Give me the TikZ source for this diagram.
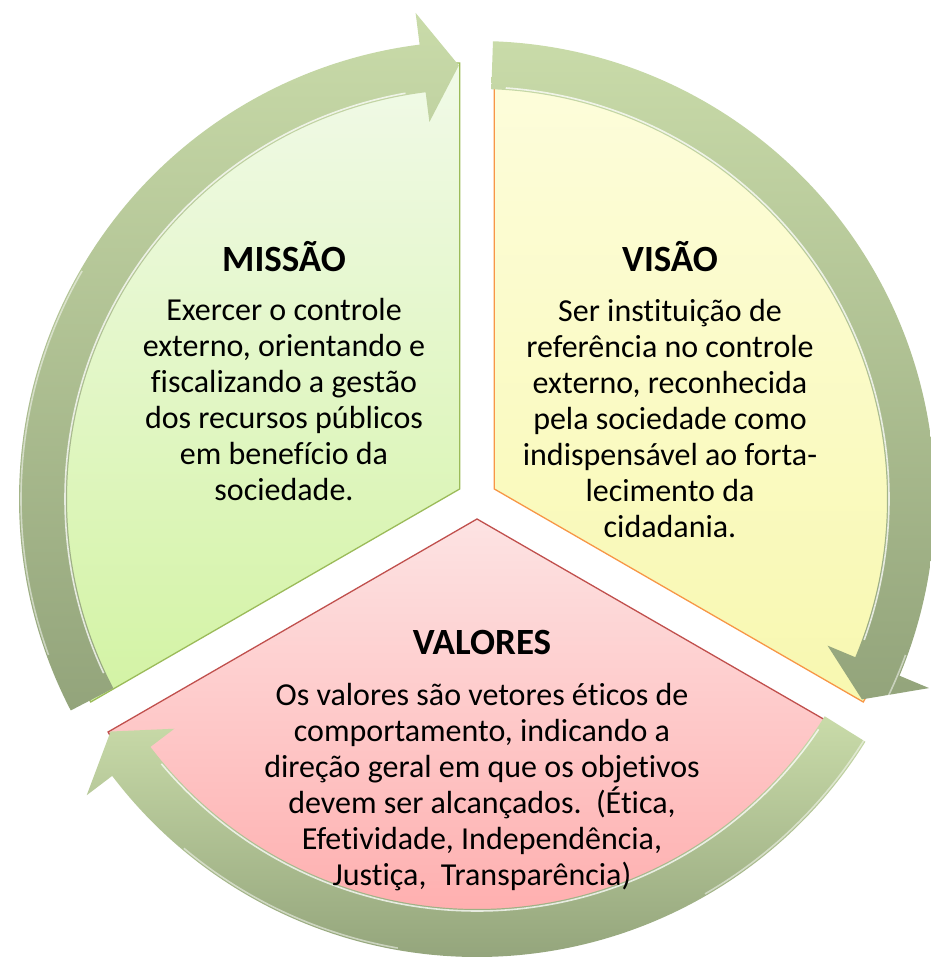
\documentclass[tikz,border=0pt]{standalone}
\usepackage{fontspec}
\setmainfont{Carlito}[RawFeature={-liga;-clig;-calt;-rlig;-dlig}]
\usetikzlibrary{calc}
\definecolor{misstop}{HTML}{F1FAE8}
\definecolor{missbot}{HTML}{D3F3A4}
\definecolor{missline}{HTML}{9BBB59}
\definecolor{vistop}{HTML}{FDFDDC}
\definecolor{visbot}{HTML}{F8F8B0}
\definecolor{visline}{HTML}{F79646}
\definecolor{valtop}{HTML}{FDE3E3}
\definecolor{valbot}{HTML}{FFA3A3}
\definecolor{valline}{HTML}{C0504D}
\definecolor{arrtop}{HTML}{C9DBA9}
\definecolor{arrbot}{HTML}{93A47B}
\tikzset{
  sector/.style={line width=1.3pt},
  ringarrow/.style={top color=arrtop, bottom color=arrbot, draw=none},
  shine/.style={draw=white, line width=1.6pt, opacity=0.75},
  titletext/.style={font=\fontsize{37}{42}\selectfont\bfseries, inner sep=0pt, text=black},
  bodytext/.style={font=\fontsize{32}{36}\selectfont, align=center, inner sep=0pt, text=black}
}
\begin{document}
\begin{tikzpicture}[x=1pt,y=1pt]
\useasboundingbox (0,0) rectangle (930,965);
\coordinate (C) at (477,466);
% sectors
\path[sector, draw=missline, top color=misstop, bottom color=missbot]
  ($(C)+(150:20)$) -- ++(90:426) arc[start angle=90, end angle=210, radius=426] -- cycle;
\path[sector, draw=visline, top color=vistop, bottom color=visbot]
  ($(C)+(30:20)$) -- ++(90:426) arc[start angle=90, end angle=-30, radius=426] -- cycle;
\path[sector, draw=valline, top color=valtop, bottom color=valbot]
  ($(C)+(270:20)$) -- ++(210:426) arc[start angle=210, end angle=330, radius=426] -- cycle;
% circular arrows
\begin{scope}[shift={(C)}]
\path[ringarrow] (207.5:458) arc[start angle=207.5, end angle=97.2, radius=458]
  -- (97.2:490) -- (92.4:434) -- (97.2:380) -- (97.2:410)
  arc[start angle=97.2, end angle=207.5, radius=410] -- cycle;
\path[ringarrow] (88:458) arc[start angle=88, end angle=-22.7, radius=458]
  -- (-22.7:490) -- (-27.5:434) -- (-22.7:380) -- (-22.7:410)
  arc[start angle=-22.7, end angle=88, radius=410] -- cycle;
\path[ringarrow] (-32:458) arc[start angle=-32, end angle=-142.8, radius=458]
  -- (-142.8:490) -- (-147.6:434) -- (-142.8:380) -- (-142.8:410)
  arc[start angle=-142.8, end angle=-32, radius=410] -- cycle;
\draw[shine] (205:412) arc[start angle=205, end angle=100, radius=412];
\draw[shine] (86:412) arc[start angle=86, end angle=-20, radius=412];
\draw[shine] (-34:412) arc[start angle=-34, end angle=-140, radius=412];
\draw[shine, opacity=0.5] (200:456) arc[start angle=200, end angle=150, radius=456];
\draw[shine, opacity=0.5] (-60:456) arc[start angle=-60, end angle=-20, radius=456];
\draw[shine, opacity=0.5] (-130:456) arc[start angle=-130, end angle=-100, radius=456];
\end{scope}
% texts
\node[titletext] (missT) at (284,708) {MISSÃO};
\node[bodytext] (missB) at (284,565) {Exercer o controle\\externo, orientando e\\fiscalizando a gestão\\dos recursos públicos\\em benefício da\\sociedade.};
\node[titletext] (visT) at (670,708) {VISÃO};
\node[bodytext] (visB) at (670,546) {Ser instituição de\\referência no controle\\externo, reconhecida\\pela sociedade como\\indispensável ao forta-\\lecimento da\\cidadania.};
\node[titletext] (valT) at (482,322) {VALORES};
\node[bodytext] (valB) at (482,178) {Os valores são vetores éticos de\\comportamento, indicando a\\direção geral em que os objetivos\\devem ser alcançados.\ \ (Ética,\\Efetividade, Independência,\\Justiça,\ \ Transparência)};
\end{tikzpicture}
\end{document}
